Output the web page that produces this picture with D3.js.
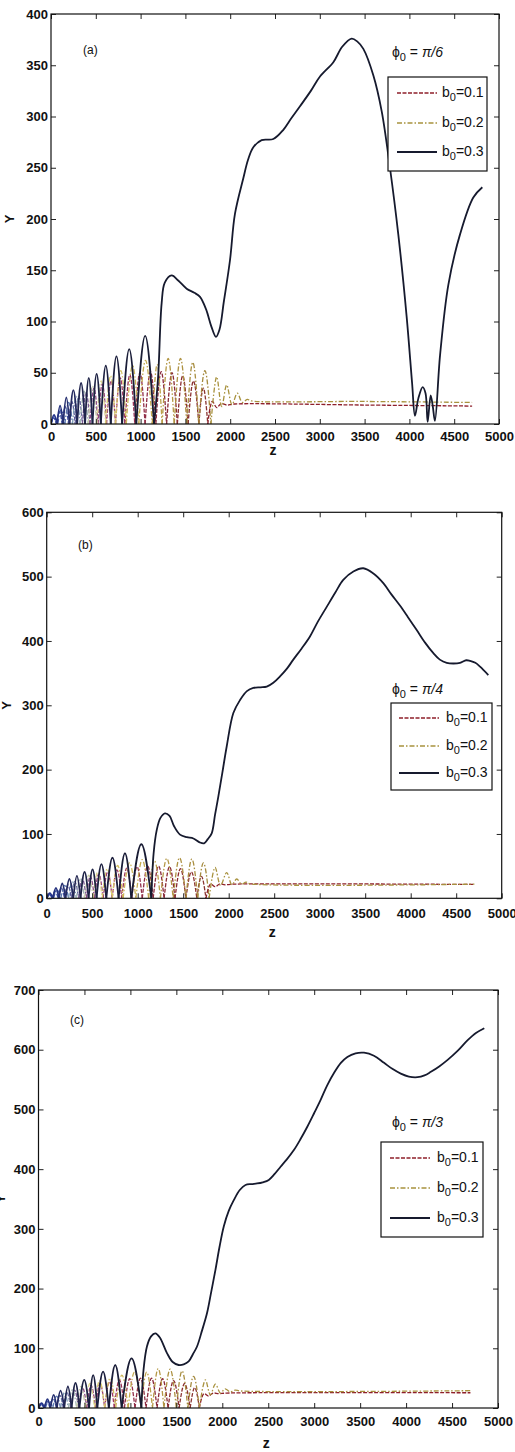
<!DOCTYPE html>
<html>
<head>
<meta charset="utf-8">
<script src="https://cdn.jsdelivr.net/npm/d3@7"></script>
<style>
  html, body { margin: 0; padding: 0; background: #fff; }
  svg { display: block; }
  text { font-family: "Liberation Sans", Arial, Helvetica, sans-serif; fill: #111; }
</style>
</head>
<body>
<svg id="chart" width="515" height="1452"></svg>
<script>
// ---------- data ----------
const zTicks = [0, 500, 1000, 1500, 2000, 2500, 3000, 3500, 4000, 4500, 5000];
const yTicksA = [0, 50, 100, 150, 200, 250, 300, 350, 400];
const yTicksB = [0, 100, 200, 300, 400, 500, 600];
const yTicksC = [0, 100, 200, 300, 400, 500, 600, 700];

const panelTags = ["(a)", "(b)", "(c)"];
const phiLabels = ["\u03c0/6", "\u03c0/4", "\u03c0/3"];
const legendLabels = ["0.1", "0.2", "0.3"];

// oscillation arches: [z start, z end, peak gamma]
const blackArchA = [[0,68,9],[68,135,18],[135,207,26],[207,292,33],[292,380,40],[380,463,45],[463,556,49],[556,667,57],[667,794,66],[794,952,73],[952,1150,86]];
const oliveArchA = [[0,75,7],[75,155,14],[155,240,21],[240,325,27],[325,415,32],[415,510,37],[510,610,42],[610,720,47],[720,840,52],[840,980,57],[980,1130,62],[1130,1240,58],[1240,1375,64],[1375,1515,64],[1515,1650,60],[1650,1785,52]];
const redArchA = [[0,60,6],[60,125,12],[125,195,17],[195,270,22],[270,350,27],[350,435,31],[435,525,35],[525,620,39],[620,720,42],[720,825,45],[825,935,48],[935,1050,50],[1050,1170,51],[1170,1290,51],[1290,1410,50],[1410,1530,47],[1530,1650,42],[1650,1750,35]];

const blackArchB = [[0,68,8],[68,135,16],[135,207,23],[207,292,30],[292,372,35],[372,460,41],[460,548,45],[548,655,53],[655,790,63],[790,930,70],[930,1150,84]];
const oliveArchB = [[0,75,6],[75,155,13],[155,240,20],[240,325,26],[325,415,31],[415,510,36],[510,610,41],[610,720,46],[720,840,51],[840,980,55],[980,1120,60],[1120,1250,58],[1250,1390,62],[1390,1530,63],[1530,1660,61],[1660,1785,55]];
const redArchB = [[0,60,6],[60,125,11],[125,195,16],[195,270,21],[270,350,26],[350,435,30],[435,525,34],[525,620,38],[620,720,41],[720,825,44],[825,935,47],[935,1050,49],[1050,1170,50],[1170,1290,50],[1290,1410,49],[1410,1530,46],[1530,1650,41],[1650,1750,34]];

const blackArchC = [[0,65,8],[65,130,15],[130,200,22],[200,280,29],[280,360,36],[360,445,42],[445,550,47],[550,640,55],[640,765,61],[765,905,72],[905,1120,83]];
const oliveArchC = [[0,75,6],[75,155,13],[155,240,20],[240,325,26],[325,415,31],[415,510,36],[510,610,41],[610,720,46],[720,840,50],[840,975,55],[975,1115,60],[1115,1240,60],[1240,1365,66],[1365,1500,65],[1500,1625,62],[1625,1750,53]];
const redArchC = [[0,60,6],[60,125,11],[125,195,16],[195,270,21],[270,350,26],[350,435,30],[435,525,34],[525,620,38],[620,720,41],[720,825,44],[825,935,47],[935,1050,49],[1050,1170,50],[1170,1290,50],[1290,1410,49],[1410,1530,46],[1530,1650,41],[1650,1750,34]];

// continuous part of each run: [z, gamma]
const blackMainA = [[1150,0],[1195,45],[1235,118],[1270,138],[1347,145],[1420,140],[1514,132],[1600,128],[1663,124],[1730,112],[1790,95],[1841,85],[1880,92],[1930,120],[1998,160],[2053,205],[2147,240],[2200,258],[2258,270],[2351,277],[2481,278],[2593,287],[2680,298],[2779,310],[2900,325],[3002,339],[3151,353],[3250,368],[3356,376],[3420,373],[3486,366],[3598,340],[3691,305],[3783,250],[3876,185],[3969,105],[4030,40],[4062,8],[4100,25],[4148,36],[4180,30],[4204,2],[4237,28],[4260,18],[4285,3],[4342,67],[4435,136],[4565,185],[4713,221],[4814,231]];
const oliveTailA = [[1785,0],[1849,46],[1905,17],[1961,38],[2020,19],[2080,30],[2135,21],[2190,24],[2240,22.5],[3500,22],[4700,21]];
const redTailA = [[1750,0],[1800,22],[1850,16],[1900,20],[1960,18.5],[2050,19.5],[3500,18.5],[4700,17.5]];

const blackMainB = [[1150,0],[1175,70],[1209,106],[1250,125],[1300,132],[1350,128],[1400,112],[1465,99],[1540,95],[1612,93],[1680,87],[1729,85.5],[1770,92],[1813,101],[1850,130],[1886,158],[1930,195],[1978,236],[2051,288],[2124,308],[2200,322],[2271,327],[2350,328],[2418,329],[2490,335],[2564,345],[2640,357],[2710,371],[2800,388],[2893,407],[2980,430],[3077,453],[3170,475],[3259,495],[3370,508],[3479,513],[3590,505],[3699,490],[3790,472],[3882,455],[3970,437],[4066,417],[4160,397],[4249,381],[4320,371],[4396,366],[4470,365],[4542,366],[4610,370],[4652,369],[4710,366],[4762,360],[4853,347]];
const oliveTailB = [[1785,0],[1850,48],[1910,20],[1978,40],[2035,21],[2088,30],[2140,22],[2190,25],[2240,22.5],[4700,22]];
const redTailB = [[1750,0],[1800,22],[1850,18],[1900,22],[1960,21],[2050,22],[4700,21.5]];

const blackMainC = [[1120,0],[1143,64],[1180,103],[1225,120],[1271,125],[1320,118],[1398,92],[1460,77],[1525,72],[1580,73],[1634,78],[1680,90],[1725,103],[1780,130],[1834,159],[1880,195],[1925,231],[1970,270],[2016,304],[2070,330],[2125,348],[2190,365],[2252,373.5],[2320,375],[2379,376],[2440,378],[2506,382],[2570,392],[2634,404],[2700,416],[2779,432],[2850,450],[2925,471],[3000,494],[3070,516],[3140,540],[3215,561],[3290,578],[3361,588],[3450,594],[3542,595],[3650,590],[3760,578],[3850,568],[3942,560],[4030,555],[4124,554],[4200,557],[4270,563],[4360,572],[4452,583],[4560,598],[4670,616],[4760,628],[4851,636]];
const oliveTailC = [[1750,0],[1816,47],[1870,22],[1925,40],[1980,25],[2030,32],[2085,27],[2140,30],[2200,28.5],[4700,29]];
const redTailC = [[1750,0],[1800,24],[1850,20],[1900,25],[1960,24],[2050,25],[4700,25.5]];

// ---------- styles and layout ----------
const seriesStyle = {
  red:   { stroke: "#8e1f2a", dash: "4,1.5", width: 1.3 },
  olive: { stroke: "#a8923e", dash: "5,2,1.5,2", width: 1.3 },
  black: { stroke: "#161a2e", dash: null, width: 1.8 }
};
// arch colours by arch index (early arches look bluish)
const archPalette = {
  red:   ["#33489a","#3a4c9c","#46529e","#5a5c9a","#6a6aa0","#7a5a92","#8a4a86","#94407a","#9a3a70","#a03a66","#9a3258","#92304c","#8e2c44","#8a2a3c","#8a2a36","#8a2c30","#8a3030","#8a3430"],
  olive: ["#3d58a8","#4a64ac","#5a78b0","#7a98b4","#a4b8b4","#c8ccaa","#dcd690","#d8cc70","#d4c264","#ccb658","#c4aa50","#bca04a","#b49846","#ae9242","#a88e40","#a48a3e"],
  black: ["#23328a","#25327e","#263070","#242a60","#222650","#1f2448","#1d2244","#1c2040","#1b1e3c","#1a1d38","#191c34"]
};

const panels = [
  { left: 51, right: 499, top: 14, bottom: 424, yMax: 400, yTicks: yTicksA, xPad: 8, yLabelX: 10, zOff: 31,
    black: blackArchA, olive: oliveArchA, red: redArchA, blackMain: blackMainA, oliveTail: oliveTailA, redTail: redTailA,
    tag: [83, 54], phi: [392, 57], legend: { x0: 388, x1: 487, y0: 77, y1: 171, rows: [93, 123, 152], lx0: 397, lx1: 437, tx: 442 } },
  { left: 46.7, right: 501.7, top: 512.3, bottom: 898.3, yMax: 600, yTicks: yTicksB, xPad: 10, yLabelX: 7, zOff: 39,
    black: blackArchB, olive: oliveArchB, red: redArchB, blackMain: blackMainB, oliveTail: oliveTailB, redTail: redTailB,
    tag: [78, 549], phi: [392, 694], legend: { x0: 391, x1: 492, y0: 703, y1: 790, rows: [718, 746, 773], lx0: 399, lx1: 439, tx: 446 } },
  { left: 38.5, right: 498, top: 990, bottom: 1408, yMax: 700, yTicks: yTicksC, xPad: 9, yLabelX: 1, zOff: 40,
    black: blackArchC, olive: oliveArchC, red: redArchC, blackMain: blackMainC, oliveTail: oliveTailC, redTail: redTailC,
    tag: [70, 1024], phi: [392, 1127], legend: { x0: 381, x1: 483, y0: 1142, y1: 1237, rows: [1158, 1188, 1218], lx0: 390, lx1: 430, tx: 437 } }
];

const svg = d3.select("#chart");

panels.forEach((p, i) => {
  const x = d3.scaleLinear().domain([0, 5000]).range([p.left, p.right]);
  const y = d3.scaleLinear().domain([0, p.yMax]).range([p.bottom, p.top]);
  const g = svg.append("g");

  const clipId = "clip" + i;
  svg.append("clipPath").attr("id", clipId)
    .append("rect").attr("x", p.left).attr("y", p.top)
    .attr("width", p.right - p.left).attr("height", p.bottom - p.top);

  const plot = g.append("g").attr("clip-path", `url(#${clipId})`);

  const archLine = d3.line().x(d => x(d[0])).y(d => y(d[1])).curve(d3.curveNatural);
  const smoothLine = d3.line().x(d => x(d[0])).y(d => y(d[1])).curve(d3.curveCatmullRom.alpha(0.5));

  function drawArches(rows, key) {
    const st = seriesStyle[key];
    plot.append("g").selectAll("path").data(rows).join("path")
      .attr("d", r => archLine([[r[0], 0], [(r[0] + r[1]) / 2, r[2]], [r[1], 0]]))
      .attr("fill", "none")
      .attr("stroke", (r, k) => archPalette[key][Math.min(k, archPalette[key].length - 1)])
      .attr("stroke-width", st.width)
      .attr("stroke-dasharray", st.dash);
  }
  function drawCurve(pts, key) {
    const st = seriesStyle[key];
    plot.append("path").datum(pts)
      .attr("d", smoothLine)
      .attr("fill", "none")
      .attr("stroke", st.stroke)
      .attr("stroke-width", st.width)
      .attr("stroke-dasharray", st.dash);
  }

  drawArches(p.red, "red");
  drawArches(p.olive, "olive");
  drawCurve(p.redTail, "red");
  drawCurve(p.oliveTail, "olive");
  drawArches(p.black, "black");
  drawCurve(p.blackMain, "black");

  // axes with inward ticks on all four sides
  const axB = d3.axisBottom(x).tickValues(zTicks).tickSizeInner(-5).tickSizeOuter(0).tickPadding(p.xPad).tickFormat(d3.format("d"));
  const axT = d3.axisTop(x).tickValues(zTicks).tickSizeInner(-5).tickSizeOuter(0).tickFormat("");
  const axL = d3.axisLeft(y).tickValues(p.yTicks).tickSizeInner(-5).tickSizeOuter(0).tickPadding(3).tickFormat(d3.format("d"));
  const axR = d3.axisRight(y).tickValues(p.yTicks).tickSizeInner(-5).tickSizeOuter(0).tickFormat("");

  const styleAxis = sel => {
    sel.select(".domain").remove();
    sel.selectAll(".tick line").attr("stroke", "#222").attr("stroke-width", 1);
    sel.selectAll(".tick text").attr("font-size", 13).attr("font-weight", "bold")
      .attr("font-family", "'Liberation Sans', Arial, sans-serif").attr("fill", "#111");
  };
  g.append("g").attr("transform", `translate(0,${p.bottom})`).call(axB).call(styleAxis);
  g.append("g").attr("transform", `translate(0,${p.top})`).call(axT).call(styleAxis);
  g.append("g").attr("transform", `translate(${p.left},0)`).call(axL).call(styleAxis);
  g.append("g").attr("transform", `translate(${p.right},0)`).call(axR).call(styleAxis);

  g.append("rect").attr("x", p.left).attr("y", p.top)
    .attr("width", p.right - p.left).attr("height", p.bottom - p.top)
    .attr("fill", "none").attr("stroke", "#111").attr("stroke-width", 1.2);

  // axis titles
  g.append("text").attr("x", (p.left + p.right) / 2 - 2).attr("y", p.bottom + p.zOff)
    .attr("text-anchor", "middle").attr("font-size", 14).attr("font-weight", "bold").text("z");
  g.append("text")
    .attr("transform", `translate(${p.yLabelX + 4},${(p.top + p.bottom) / 2}) rotate(-90)`)
    .attr("text-anchor", "middle").attr("font-size", 13).attr("font-weight", "bold").text("Y");

  // panel tag
  g.append("text").attr("x", p.tag[0]).attr("y", p.tag[1]).attr("font-size", 12).text(panelTags[i]);

  // phi label
  const phi = g.append("text").attr("x", p.phi[0]).attr("y", p.phi[1]).attr("font-size", 14);
  phi.append("tspan").text("\u03d5");
  phi.append("tspan").attr("dy", 4).attr("font-size", 11).text("0");
  phi.append("tspan").attr("dy", -4).text(" = ");
  phi.append("tspan").attr("font-style", "italic").text(phiLabels[i]);

  // legend
  const L = p.legend;
  g.append("rect").attr("x", L.x0).attr("y", L.y0).attr("width", L.x1 - L.x0).attr("height", L.y1 - L.y0)
    .attr("fill", "#fff").attr("stroke", "#111").attr("stroke-width", 1.2);
  ["red", "olive", "black"].forEach((key, k) => {
    const st = seriesStyle[key];
    g.append("line").attr("x1", L.lx0).attr("x2", L.lx1).attr("y1", L.rows[k]).attr("y2", L.rows[k])
      .attr("stroke", st.stroke).attr("stroke-width", st.width).attr("stroke-dasharray", st.dash);
    const t = g.append("text").attr("x", L.tx).attr("y", L.rows[k] + 4).attr("font-size", 14);
    t.append("tspan").text("b");
    t.append("tspan").attr("dy", 4).attr("font-size", 11).text("0");
    t.append("tspan").attr("dy", -4).text("=" + legendLabels[k]);
  });
});
</script>
</body>
</html>
